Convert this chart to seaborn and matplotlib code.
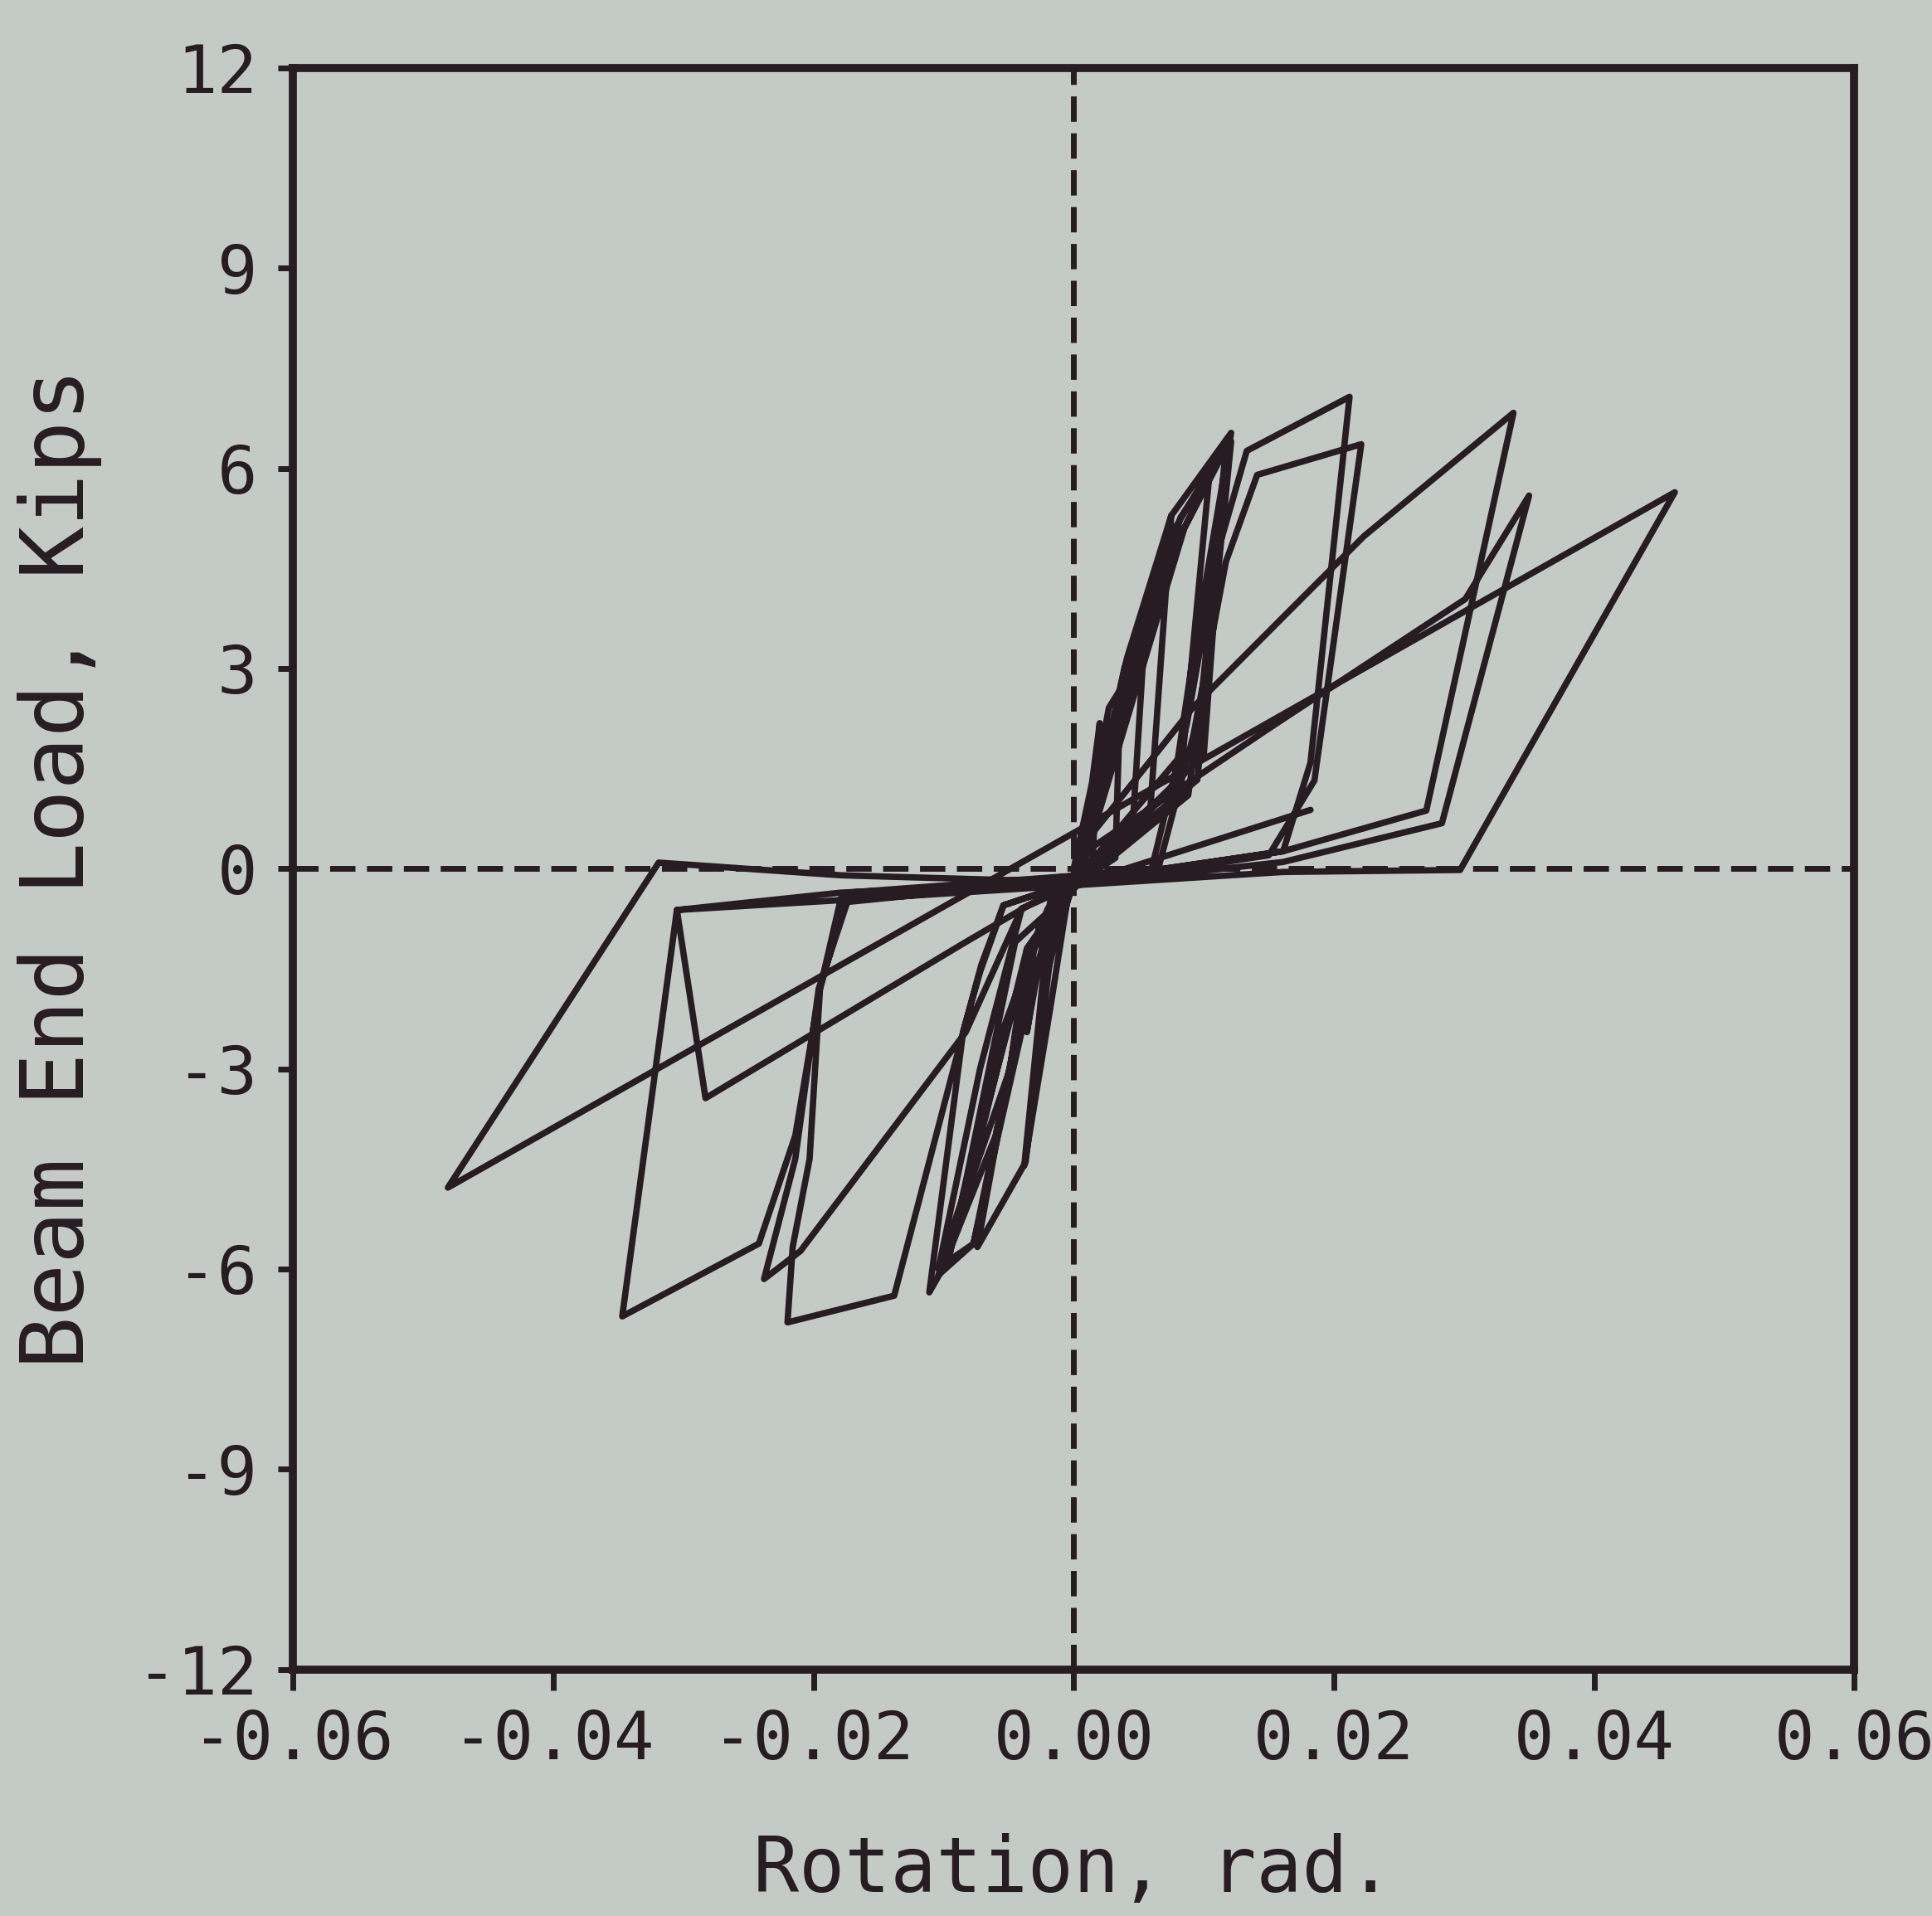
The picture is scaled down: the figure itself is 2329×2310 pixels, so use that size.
import matplotlib
matplotlib.use("Agg")
import matplotlib.pyplot as plt
import pandas as pd
import seaborn as sns

# ---- data (rotation in rad, beam end load in kips) ----
rotation = [
    0.0000, 0.0014, 0.0020, 0.0014, -0.0004, -0.0013, -0.0020, -0.0011, 0.0003,
    0.0027, 0.0036, 0.0032, -0.0006, -0.0027, -0.0036, -0.0018, 0.0005,
    0.0039, 0.0056, 0.0045, -0.0004, -0.0018, -0.0038, -0.0018, 0.0005,
    0.0041, 0.0075, 0.0059, 0.0000, -0.0018, -0.0037, -0.0074, -0.0048, -0.0034, -0.0011, 0.0005,
    0.0055, 0.0104, 0.0082, 0.0000, -0.0029, -0.0077, -0.0104, -0.0049, -0.0036, 0.0005,
    0.0075, 0.0121, 0.0092, 0.0080, 0.0000, -0.0054, -0.0071, -0.0085, -0.0111, -0.0098,
    -0.0077, -0.0048, -0.0034, -0.0011, 0.0005,
    0.0077, 0.0118, 0.0100, 0.0000, -0.0040, -0.0072, -0.0104, -0.0083, -0.0037, 0.0005,
    0.0082, 0.0121, 0.0095, 0.0000, -0.0036, -0.0089, -0.0100, -0.0060, -0.0027, 0.0005,
    0.0085, 0.0117, 0.0098, 0.0088, 0.0000, -0.0045, -0.0082, -0.0095, -0.0058, -0.0020, 0.0005,
    0.0060, 0.0087, 0.0110, 0.0133, 0.0212, 0.0182, 0.0161, 0.0000, -0.0054, -0.0072,
    -0.0085, -0.0138, -0.0220, -0.0216, -0.0203, -0.0195, -0.0179, 0.0005,
    0.0065, 0.0092, 0.0117, 0.0141, 0.0221, 0.0185, 0.0150, 0.0000, -0.0040, -0.0083,
    -0.0210, -0.0238, -0.0214, -0.0196, -0.0174, 0.0005,
    0.0005, 0.0091, 0.0161, 0.0223, 0.0338, 0.0271, 0.0161, 0.0000, -0.0179, -0.0305,
    -0.0347, -0.0242, -0.0214, -0.0195, -0.0174, 0.0005,
    0.0005, 0.0150, 0.0301, 0.0350, 0.0283, 0.0161, 0.0000, -0.0160, -0.0305, -0.0283,
    -0.0083, 0.0005,
    0.0000, -0.0179, -0.0319, -0.0481, 0.0462, 0.0297, 0.0161, 0.0000, 0.0182,
]
load = [
    0.00, 1.28, 2.18, -0.04, -0.25, -1.00, -1.55, -0.36, -0.14,
    2.41, 2.69, 0.16, -0.33, -1.36, -2.45, -0.49, -0.04,
    3.01, 3.96, 0.54, -0.36, -2.09, -4.45, -0.55, -0.10,
    3.16, 5.29, 0.93, -0.20, -1.33, -4.40, -5.67, -2.87, -1.22, -0.40, -0.10,
    3.96, 5.84, 1.32, -0.25, -1.50, -5.62, -6.09, -3.00, -1.20, -0.10,
    5.29, 6.53, 3.22, 1.64, -0.20, -0.55, -1.44, -2.45, -6.35, -5.90,
    -5.62, -2.87, -1.22, -0.40, -0.15,
    5.07, 6.42, 1.71, -0.22, -0.60, -3.00, -6.00, -4.80, -1.40, -0.12,
    5.26, 6.40, 1.33, -0.18, -1.20, -5.40, -5.95, -4.00, -0.90, -0.10,
    5.10, 6.30, 2.50, 1.10, -0.30, -1.10, -4.60, -5.75, -2.60, -0.60, -0.10,
    0.00, 2.17, 4.70, 6.26, 7.07, 1.59, 0.26, -0.20, -0.55, -1.55,
    -2.45, -6.40, -6.80, -5.67, -4.35, -1.80, -0.45, -0.10,
    0.00, 2.00, 4.60, 5.90, 6.36, 1.32, 0.20, -0.25, -0.60, -2.45,
    -5.73, -6.15, -4.35, -1.80, -0.50, -0.15,
    0.30, 2.40, 3.77, 4.98, 6.83, 0.87, 0.26, -0.20, -0.36, -0.62,
    -6.71, -5.62, -4.00, -1.80, -0.36, -0.10,
    0.20, 2.10, 4.04, 5.59, 0.68, 0.10, -0.25, -0.45, -0.62, -3.44,
    -1.10, -0.10,
    -0.20, -0.10, 0.09, -4.78, 5.64, -0.02, -0.05, -0.25, 0.88,
]

x_ticks = [-0.06, -0.04, -0.02, 0.00, 0.02, 0.04, 0.06]
x_tick_labels = ["-0.06", "-0.04", "-0.02", "0.00", "0.02", "0.04", "0.06"]
y_ticks = [12, 9, 6, 3, 0, -3, -6, -9, -12]
y_tick_labels = ["12", "9", "6", "3", "0", "-3", "-6", "-9", "-12"]
x_label = "Rotation, rad."
y_label = "Beam End Load, Kips"

# ---- style ----
sns.set_theme(style="white")
plt.rcParams["font.family"] = ["DejaVu Sans Mono", "DejaVu Sans"]
plt.rcParams["axes.unicode_minus"] = False

BG = "#c4cbc7"
INK = "#271c22"

fig = plt.figure(figsize=(23.29, 23.10), dpi=100, facecolor=BG)
ax = fig.add_axes([0.1517, 0.1287, 0.8081, 0.8359])
ax.set_facecolor(BG)

df = pd.DataFrame({"Rotation": rotation, "Load": load})
sns.lineplot(data=df, x="Rotation", y="Load", sort=False, estimator=None,
             color=INK, lw=5.5, ax=ax, zorder=3)
for ln in ax.lines:
    ln.set_solid_joinstyle("round")
    ln.set_solid_capstyle("round")

ax.axhline(0, color=INK, lw=5.0, ls=(0, (4.4, 2.0)), zorder=2)
ax.axvline(0, color=INK, lw=5.0, ls=(0, (4.4, 2.0)), zorder=2)

ax.set_xlim(-0.06, 0.06)
ax.set_ylim(-12, 12)
ax.set_xticks(x_ticks)
ax.set_xticklabels(x_tick_labels)
ax.set_yticks(y_ticks)
ax.set_yticklabels(y_tick_labels)

for s in ax.spines.values():
    s.set_color(INK)
    s.set_linewidth(7)

ax.tick_params(axis="x", direction="out", length=18, width=5, pad=16,
               labelsize=58, colors=INK, bottom=True, top=False)
ax.tick_params(axis="y", direction="out", length=13, width=5, pad=18,
               labelsize=58, colors=INK, left=True, right=False)

ax.set_xlabel(x_label, fontsize=66, color=INK, labelpad=52)
ax.set_ylabel(y_label, fontsize=76, color=INK, labelpad=30)
ax.grid(False)

fig.savefig("out.png", dpi=100, facecolor=BG)
